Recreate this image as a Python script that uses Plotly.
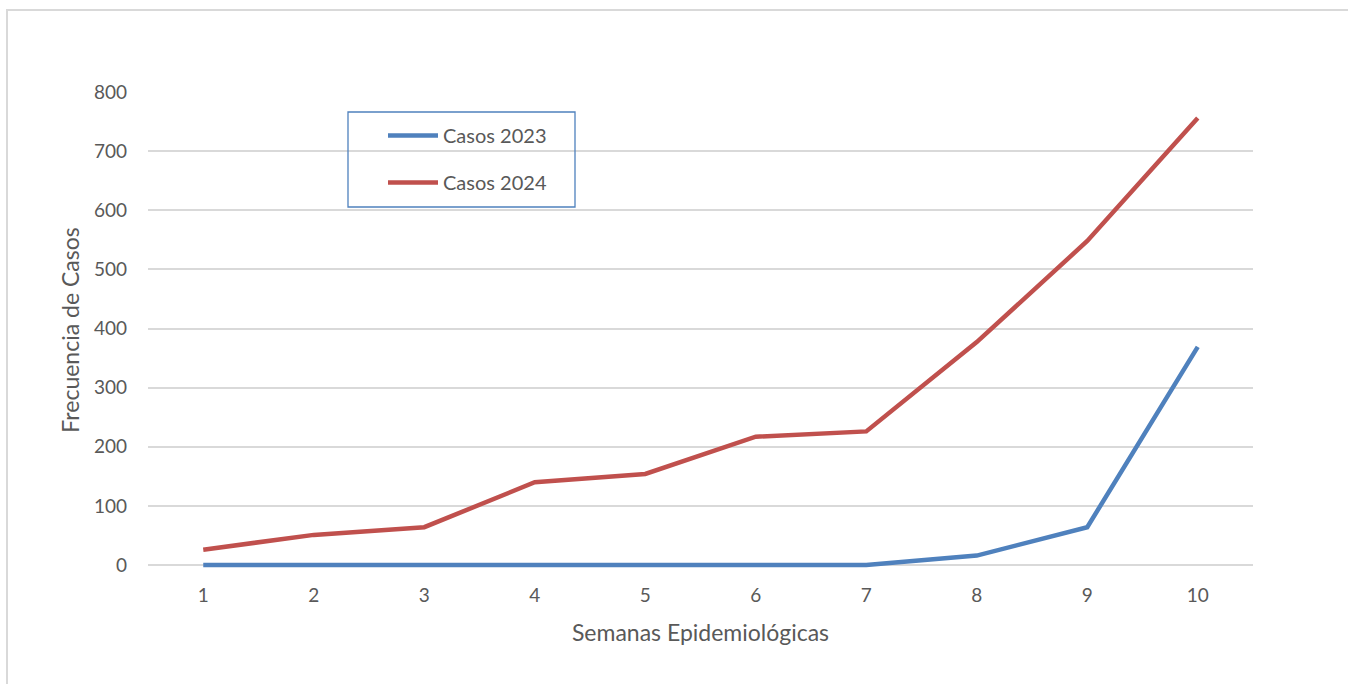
import plotly.graph_objects as go

semanas = [1, 2, 3, 4, 5, 6, 7, 8, 9, 10]
casos_2023 = [0, 0, 0, 0, 0, 0, 0, 16, 64, 369]
casos_2024 = [26, 51, 64, 140, 154, 217, 226, 377, 548, 756]
y_ticks = [0, 100, 200, 300, 400, 500, 600, 700, 800]

FONT = "Lato"
TXT = "#595959"
GRID = "#D9D9D9"

W, H = 1348, 684
# plot area in page pixels
PL, PR, PT = 148, 1253, 92
Y0_PX = 565            # pixel of value 0
YMIN = -5              # small pad so the zero line is not clipped
PB = Y0_PX + (Y0_PX - PT) / 800 * (-YMIN)
L, R, T, B = PL, W - PR, PT, H - PB
pw, ph = W - L - R, H - T - B

def px_x(px):
    return (px - L) / pw

def px_y(py):
    return (H - B - py) / ph

fig = go.Figure()
fig.add_trace(go.Scatter(x=semanas, y=casos_2023, mode="lines", name="Casos 2023",
                         legendgroup="a",
                         line=dict(color="#4F81BD", width=4.5)))
fig.add_trace(go.Scatter(x=semanas, y=casos_2024, mode="lines", name="Casos 2024",
                         legendgroup="b",
                         line=dict(color="#C0504D", width=4.5)))

fig.update_layout(
    width=W, height=H,
    margin=dict(l=L, r=R, t=T, b=B, autoexpand=False),
    paper_bgcolor="white", plot_bgcolor="white",
    font=dict(family=FONT, color=TXT, size=19),
    showlegend=True,
    legend=dict(x=px_x(383), y=px_y(116), xanchor="left", yanchor="top",
                bgcolor="rgba(0,0,0,0)", borderwidth=0,
                font=dict(family=FONT, size=20, color=TXT),
                tracegroupgap=18, itemwidth=50),
    xaxis=dict(range=[0.5, 10.5], tickvals=semanas, ticktext=[str(s) for s in semanas],
               showgrid=False, zeroline=False, showline=False, ticks="",
               tickfont=dict(size=19, color=TXT), ticklabelstandoff=14,
               title=dict(text="Semanas Epidemiológicas", font=dict(size=23, color=TXT),
                          standoff=19)),
    yaxis=dict(range=[YMIN, 800], tickvals=y_ticks, showgrid=True, gridcolor=GRID, gridwidth=1.5,
               zeroline=False, showline=False, ticks="",
               tickfont=dict(size=19, color=TXT), ticklabelstandoff=20,
               title=dict(text="Frecuencia de Casos", font=dict(size=23, color=TXT),
                          standoff=7)),
    shapes=[
        dict(type="rect", xref="paper", yref="paper",
             x0=px_x(348), x1=px_x(575), y0=px_y(207), y1=px_y(112),
             line=dict(color="#4F81BD", width=1.3), fillcolor="rgba(0,0,0,0)", layer="above"),
        dict(type="rect", xref="paper", yref="paper",
             x0=px_x(7), x1=px_x(W + 20), y0=px_y(H + 20), y1=px_y(10),
             line=dict(color=GRID, width=2), fillcolor="rgba(0,0,0,0)", layer="below"),
    ],
)

fig.write_html("out.html", config={"displayModeBar": False},
               post_script="document.body.style.margin='0';document.body.style.overflow='hidden';")
